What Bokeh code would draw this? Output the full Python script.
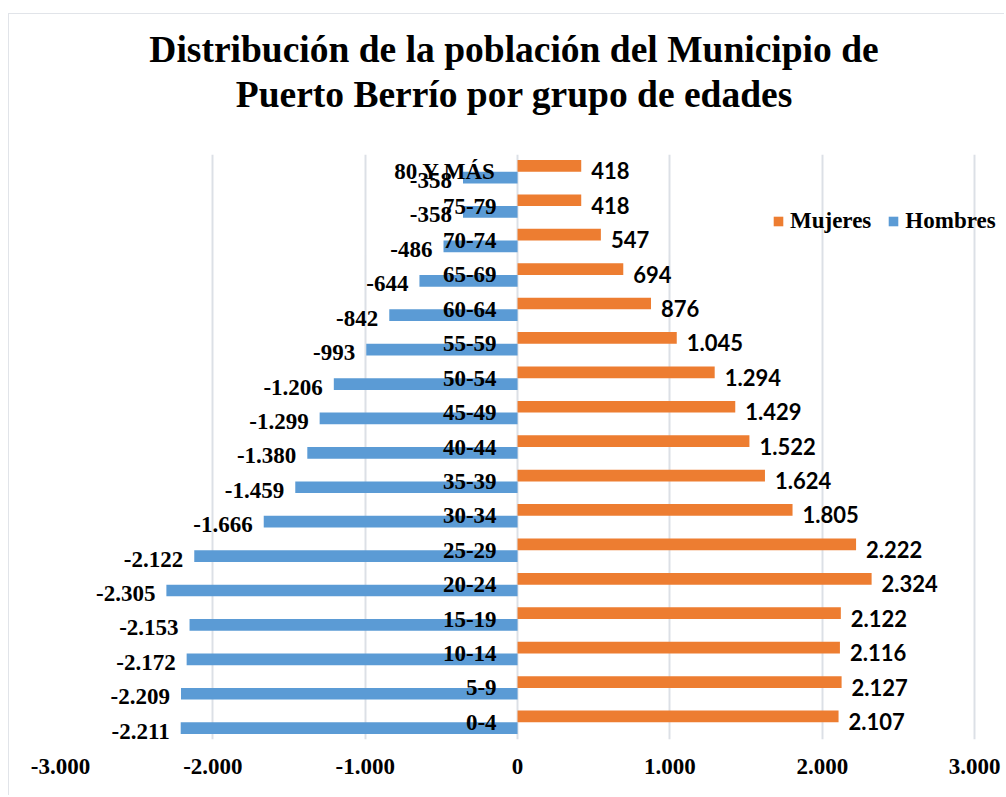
from bokeh.plotting import figure
from bokeh.models import (Range1d, FactorRange, FixedTicker, Legend,
                          LegendItem, ColumnDataSource, Div)
from bokeh.layouts import column
from bokeh.transform import dodge
from bokeh.core.properties import value
from bokeh.embed import file_html
from bokeh.resources import INLINE

# ---- data (bottom -> top) ----
categories = ["0-4", "5-9", "10-14", "15-19", "20-24", "25-29", "30-34", "35-39",
              "40-44", "45-49", "50-54", "55-59", "60-64", "65-69", "70-74",
              "75-79", "80 Y MÁS"]
mujeres = [2107, 2127, 2116, 2122, 2324, 2222, 1805, 1624, 1522, 1429, 1294,
           1045, 876, 694, 547, 418, 418]
hombres = [-2211, -2209, -2172, -2153, -2305, -2122, -1666, -1459, -1380,
           -1299, -1206, -993, -842, -644, -486, -358, -358]
tick_values = [-3000, -2000, -1000, 0, 1000, 2000, 3000]
tick_labels = ["-3.000", "-2.000", "-1.000", "0", "1.000", "2.000", "3.000"]
title_lines = ["Distribución de la población del Municipio de",
               "Puerto Berrío por grupo de edades"]
series_names = ["Mujeres", "Hombres"]
series_colors = ["#ED7D31", "#5B9BD5"]

SERIF = "Liberation Serif"
SANS = "Lato"


def fmt(v):
    s = f"{abs(v):,}".replace(",", ".")
    return ("-" if v < 0 else "") + s


src = ColumnDataSource(dict(
    cat=categories, muj=mujeres, hom=hombres,
    muj_lbl=[fmt(v) for v in mujeres], hom_lbl=[fmt(v) for v in hombres],
))

TITLE_H = 130
title_html = (
    "<div style=\"font-family:'Liberation Serif',serif; font-weight:bold; "
    "font-size:37.5px; line-height:45px; text-align:center; color:#000000; "
    "width:1004px; padding-left:24px; padding-top:27px; box-sizing:border-box; "
    "white-space:nowrap;\">" + "<br>".join(title_lines) + "</div>"
)
title_div = Div(text=title_html, width=1004, height=TITLE_H, margin=0)

p = figure(width=1004, height=795 - TITLE_H,
           y_range=FactorRange(*categories), x_range=Range1d(-3000, 3170),
           output_backend="svg", toolbar_location=None,
           min_border_left=60, min_border_right=4, min_border_bottom=56,
           min_border_top=154 - TITLE_H, margin=0)
p.y_range.range_padding = 0

p.outline_line_color = None
p.background_fill_alpha = 0
p.border_fill_alpha = 0

p.xaxis.ticker = FixedTicker(ticks=tick_values)
p.xaxis.major_label_overrides = {v: l for v, l in zip(tick_values, tick_labels)}
p.xaxis.axis_line_color = None
p.xaxis.major_tick_line_color = None
p.xaxis.minor_tick_line_color = None
p.xaxis.major_tick_out = 0
p.xaxis.major_label_standoff = 19
p.xaxis.major_label_text_font = SERIF
p.xaxis.major_label_text_font_style = "bold"
p.xaxis.major_label_text_font_size = "23px"
p.xaxis.major_label_text_color = "#000000"
p.yaxis.visible = False

p.xgrid.ticker = FixedTicker(ticks=tick_values)
p.xgrid.grid_line_color = "#DCE0E6"
p.xgrid.grid_line_width = 2
p.ygrid.visible = False

r_m = p.hbar(y=dodge("cat", 0.17, range=p.y_range), left=0, right="muj",
             height=0.34, fill_color=series_colors[0], line_color=None, source=src)
r_h = p.hbar(y=dodge("cat", -0.17, range=p.y_range), left=0, right="hom",
             height=0.34, fill_color=series_colors[1], line_color=None, source=src)

# category labels at the centre
p.text(x=0, y="cat", text="cat", source=src, x_offset=-21, y_offset=0,
       text_align="right", text_baseline="middle",
       text_font=value(SERIF), text_font_style="bold",
       text_font_size=value("23px"), text_color="#000000")

# value labels
p.text(x="muj", y=dodge("cat", 0.17, range=p.y_range), text="muj_lbl", source=src,
       x_offset=10, y_offset=5, text_align="left", text_baseline="middle",
       text_font=value(SANS), text_font_style="bold",
       text_font_size=value("22px"), text_color="#000000")
p.text(x="hom", y=dodge("cat", -0.17, range=p.y_range), text="hom_lbl", source=src,
       x_offset=-11, y_offset=3, text_align="right", text_baseline="middle",
       text_font=value(SERIF), text_font_style="bold",
       text_font_size=value("23px"), text_color="#000000")

legend = Legend(items=[LegendItem(label=series_names[0], renderers=[r_m]),
                       LegendItem(label=series_names[1], renderers=[r_h])],
                orientation="horizontal", location=(712, 505),
                padding=0, margin=0, spacing=16, glyph_width=12, glyph_height=12,
                label_standoff=6, border_line_color=None,
                background_fill_alpha=0,
                label_text_font=SERIF, label_text_font_style="bold",
                label_text_font_size="23px", label_text_color="#000000")
p.add_layout(legend)

border_bg = ("linear-gradient(#E1E4E9,#E1E4E9) 8px 13px / 1px 100% no-repeat, "
             "linear-gradient(#E1E4E9,#E1E4E9) 8px 13px / 100% 1px no-repeat, #FFFFFF")
layout = column(title_div, p, spacing=0, margin=0, styles={"background": border_bg})

open("out.html", "w").write(file_html(layout, INLINE))
